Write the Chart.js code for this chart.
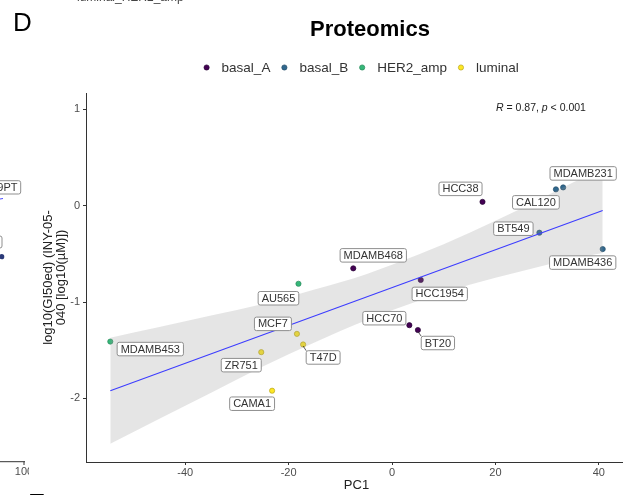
<!DOCTYPE html>
<html>
<head>
<meta charset="utf-8">
<script src="https://cdn.jsdelivr.net/npm/chart.js@4.4.1/dist/chart.umd.min.js"></script>
<style>
    html, body { margin: 0; padding: 0; background: #fff; overflow: hidden; width: 623px; height: 495px; }
    #wrap { position: absolute; left: 0; top: 0; width: 640px; height: 495px; }
</style>
</head>
<body>
<div id="wrap"><canvas id="c" width="640" height="495"></canvas></div>
<script>
// Proteomics panel (D): PC1 vs log10 GI50, coloured by subtype
var CELL_LINES = ['MDAMB453', 'AU565', 'MCF7', 'T47D', 'ZR751', 'CAMA1', 'MDAMB468', 'HCC1954', 'HCC70', 'BT20', 'HCC38', 'BT549', 'CAL120', 'MDAMB231', 'MDAMB436'];
var SUBTYPE = ['HER2_amp', 'HER2_amp', 'luminal', 'luminal', 'luminal', 'luminal', 'basal_A', 'basal_A', 'basal_A', 'basal_A', 'basal_A', 'basal_B', 'basal_B', 'basal_B', 'basal_B'];
var PC1 = [-54.5, -18.1, -18.4, -17.2, -25.3, -23.2, -7.5, 5.55, 3.35, 5.0, 17.5, 28.5, 31.7, 33.1, 40.75];
var GI50 = [-1.41, -0.81, -1.33, -1.44, -1.52, -1.92, -0.65, -0.77, -1.24, -1.29, 0.04, -0.28, 0.17, 0.19, -0.45];

var SUBTYPES = ['basal_A', 'basal_B', 'HER2_amp', 'luminal'];
var SUBTYPE_COLORS = ['#440154', '#31688E', '#35B779', '#FDE725'];
var SUBTYPE_EDGES = ['#2a0738', '#244d69', '#2a8a5b', '#b8a51c'];

// linear fit and its confidence band
var FIT_X = [-54.5, 40.75];
var FIT_Y = [-1.92, -0.05];
var BAND_X = [-54.5, -45, -35, -25, -15, -5, 5, 15, 25, 35, 40.75];
var BAND_LO = [-2.47, -2.21, -1.94, -1.67, -1.42, -1.19, -0.99, -0.82, -0.68, -0.55, -0.49];
var BAND_HI = [-1.37, -1.26, -1.14, -1.02, -0.87, -0.71, -0.51, -0.28, -0.03, 0.24, 0.39];

var X_TICKS = [-40, -20, 0, 20, 40];
var Y_TICKS = [-2, -1, 0, 1];
var X_RANGE = [-59.2, 45.45];
var Y_RANGE = [-2.66, 1.17];

// label nudges in px (ggrepel placement), and which labels carry a segment
var LABEL_NUDGE = {
    MDAMB453: [40, 7.5], AU565: [-20, 14.5], MCF7: [-24, -10], T47D: [20, 13], ZR751: [-20, 13], CAMA1: [-20, 13],
    MDAMB468: [20, -13], HCC1954: [19, 14], HCC70: [-25, -7], BT20: [20, 13], HCC38: [-22, -13],
    BT549: [-26, -4], CAL120: [-20, 13], MDAMB231: [20, -14], MDAMB436: [-20, 13.5]
};
var SEGMENTS = ['T47D', 'BT20'];

var FONT = '"Liberation Sans", Arial, Helvetica, sans-serif';

function pointsFor(sub) {
    var out = [];
    for (var i = 0; i < CELL_LINES.length; i++) {
        if (SUBTYPE[i] === sub) out.push({ x: PC1[i], y: GI50[i] });
    }
    return out;
}
function xy(xs, ys) {
    return xs.map(function (v, i) { return { x: v, y: ys[i] }; });
}

var datasets = SUBTYPES.map(function (s, k) {
    return {
        type: 'scatter', label: s, data: pointsFor(s), order: 3,
        pointRadius: 2.6, pointBackgroundColor: SUBTYPE_COLORS[k], pointBorderColor: SUBTYPE_EDGES[k], pointBorderWidth: 0.7
    };
});
datasets.push({ type: 'line', label: 'lo', data: xy(BAND_X, BAND_LO), order: 2, borderWidth: 0, pointRadius: 0, fill: false, cubicInterpolationMode: 'monotone' });
datasets.push({ type: 'line', label: 'hi', data: xy(BAND_X, BAND_HI), order: 2, borderWidth: 0, pointRadius: 0, fill: 4, backgroundColor: 'rgba(153,153,153,0.25)', cubicInterpolationMode: 'monotone' });
datasets.push({ type: 'line', label: 'fit', data: xy(FIT_X, FIT_Y), order: 1, borderColor: '#3d3dff', borderWidth: 1.1, pointRadius: 0, fill: false });

function roundRect(ctx, x, y, w, h, r) {
    ctx.beginPath();
    ctx.moveTo(x + r, y);
    ctx.lineTo(x + w - r, y);
    ctx.arcTo(x + w, y, x + w, y + r, r);
    ctx.lineTo(x + w, y + h - r);
    ctx.arcTo(x + w, y + h, x + w - r, y + h, r);
    ctx.lineTo(x + r, y + h);
    ctx.arcTo(x, y + h, x, y + h - r, r);
    ctx.lineTo(x, y + r);
    ctx.arcTo(x, y, x + r, y, r);
    ctx.closePath();
}

var repelLabels = {
    id: 'repelLabels',
    afterDatasetsDraw: function (chart) {
        var ctx = chart.ctx, xs = chart.scales.x, ys = chart.scales.y;
        ctx.save();
        ctx.font = '11px ' + FONT;
        ctx.textAlign = 'center';
        ctx.textBaseline = 'middle';
        CELL_LINES.forEach(function (name, i) {
            var px = xs.getPixelForValue(PC1[i]), py = ys.getPixelForValue(GI50[i]);
            var n = LABEL_NUDGE[name];
            var cx = px + n[0], cy = py + n[1];
            var w = ctx.measureText(name).width + 7, h = 13.5;
            var x0 = cx - w / 2, y0 = cy - h / 2;
            if (SEGMENTS.indexOf(name) >= 0) {
                var tx = Math.max(x0, Math.min(px, x0 + w)), ty = Math.max(y0, Math.min(py, y0 + h));
                ctx.strokeStyle = '#333';
                ctx.lineWidth = 0.8;
                ctx.beginPath();
                ctx.moveTo(px, py + 1.5);
                ctx.lineTo(tx, ty);
                ctx.stroke();
            }
            roundRect(ctx, x0, y0, w, h, 2);
            ctx.fillStyle = '#fff';
            ctx.fill();
            ctx.strokeStyle = '#8f8f8f';
            ctx.lineWidth = 1;
            ctx.stroke();
            ctx.fillStyle = '#333';
            ctx.fillText(name, cx, cy + 0.5);
        });
        ctx.restore();
    }
};

var decorations = {
    id: 'decorations',
    afterDraw: function (chart) {
        var ctx = chart.ctx, area = chart.chartArea;
        ctx.save();

        // panel letter and title
        ctx.fillStyle = '#000';
        ctx.textAlign = 'left';
        ctx.textBaseline = 'alphabetic';
        ctx.font = '26px ' + FONT;
        ctx.fillText('D', 13, 31);
        ctx.fillText('E', 28, 512);
        ctx.textAlign = 'center';
        ctx.font = 'bold 22px ' + FONT;
        ctx.fillText('Proteomics', 370, 36);

        // legend
        ctx.font = '13.5px ' + FONT;
        ctx.textAlign = 'left';
        ctx.textBaseline = 'middle';
        var lx = 206.6, ly = 67.5;
        SUBTYPES.forEach(function (s, k) {
            ctx.beginPath();
            ctx.arc(lx, ly, 2.6, 0, Math.PI * 2);
            ctx.fillStyle = SUBTYPE_COLORS[k];
            ctx.fill();
            ctx.strokeStyle = SUBTYPE_EDGES[k];
            ctx.lineWidth = 0.7;
            ctx.stroke();
            ctx.fillStyle = '#333';
            ctx.fillText(s, lx + 15, ly + 0.5);
            lx += 15 + ctx.measureText(s).width + 14;
        });

        // correlation annotation
        ctx.fillStyle = '#222';
        var ax = 496, ay = 108;
        var parts = [['R', true], [' = 0.87, ', false], ['p', true], [' < 0.001', false]];
        parts.forEach(function (p) {
            ctx.font = (p[1] ? 'italic ' : '') + '10.5px ' + FONT;
            ctx.fillText(p[0], ax, ay);
            ax += ctx.measureText(p[0]).width;
        });

        // axis titles
        ctx.textAlign = 'center';
        ctx.font = '13px ' + FONT;
        ctx.fillStyle = '#222';
        ctx.fillText('PC1', (area.left + area.right) / 2, 485);
        ctx.save();
        ctx.translate(55, (area.top + area.bottom) / 2);
        ctx.rotate(-Math.PI / 2);
        ctx.fillText('log10(GI50ed) (INY-05-', 0, -6.5);
        ctx.fillText('040 [log10(\u00b5M)])', 0, 6.5);
        ctx.restore();

        // edges of the neighbouring panels
        ctx.fillStyle = '#444';
        ctx.font = '12px ' + FONT;
        ctx.textAlign = 'left';
        ctx.textBaseline = 'alphabetic';
        ctx.fillText('luminal_HER2_amp', 77, 1);
        ctx.font = '11px ' + FONT;
        roundRect(ctx, -40, 180.7, 60.7, 13.3, 2);
        ctx.fillStyle = '#fff';
        ctx.fill();
        ctx.strokeStyle = '#8f8f8f';
        ctx.lineWidth = 1;
        ctx.stroke();
        roundRect(ctx, -40, 236, 42, 12, 2);
        ctx.stroke();
        ctx.fillStyle = '#333';
        ctx.textAlign = 'right';
        ctx.textBaseline = 'middle';
        ctx.fillText('9PT', 17.5, 188);
        ctx.strokeStyle = '#4a4aff';
        ctx.beginPath();
        ctx.moveTo(0, 199);
        ctx.lineTo(3, 198.5);
        ctx.stroke();
        ctx.beginPath();
        ctx.arc(1.7, 256.7, 2.6, 0, Math.PI * 2);
        ctx.fillStyle = '#2b3a78';
        ctx.fill();
        ctx.strokeStyle = '#333';
        ctx.beginPath();
        ctx.moveTo(0, 461.7);
        ctx.lineTo(25, 461.7);
        ctx.moveTo(24, 461.7);
        ctx.lineTo(24, 465);
        ctx.stroke();
        ctx.beginPath();
        ctx.rect(0, 463, 29, 20);
        ctx.clip();
        ctx.fillStyle = '#4d4d4d';
        ctx.textAlign = 'center';
        ctx.fillText('100', 24, 471.5);
        ctx.restore();
    }
};

new Chart(document.getElementById('c'), {
    type: 'scatter',
    data: { datasets: datasets },
    options: {
        responsive: false,
        animation: false,
        devicePixelRatio: 1,
        layout: { padding: { top: 93, right: 13, left: 0, bottom: 0 } },
        plugins: { legend: { display: false }, title: { display: false }, tooltip: { enabled: false } },
        scales: {
            x: {
                type: 'linear', min: X_RANGE[0], max: X_RANGE[1],
                afterBuildTicks: function (s) { s.ticks = X_TICKS.map(function (v) { return { value: v }; }); },
                afterFit: function (s) { s.height = 33; },
                grid: { drawOnChartArea: false, drawTicks: true, tickLength: 3, color: '#333' },
                border: { display: true, color: '#333', width: 1 },
                ticks: { color: '#4d4d4d', font: { size: 11, family: FONT }, padding: 1, maxRotation: 0, autoSkip: false }
            },
            y: {
                type: 'linear', min: Y_RANGE[0], max: Y_RANGE[1],
                afterBuildTicks: function (s) { s.ticks = Y_TICKS.map(function (v) { return { value: v }; }); },
                afterFit: function (s) { s.width = 86; },
                grid: { drawOnChartArea: false, drawTicks: true, tickLength: 3, color: '#333' },
                border: { display: true, color: '#333', width: 1 },
                ticks: { color: '#4d4d4d', font: { size: 11, family: FONT }, padding: 3, autoSkip: false }
            }
        }
    },
    plugins: [repelLabels, decorations]
});
</script>
</body>
</html>
